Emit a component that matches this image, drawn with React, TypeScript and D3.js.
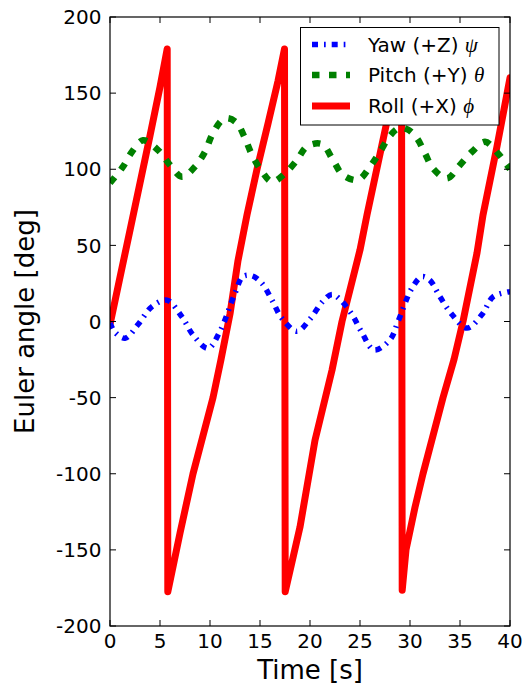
import React from 'react';
import * as d3 from 'd3';

// Time samples [s] and Euler angles [deg]
const rollTime = [0, 1, 2, 3, 4, 5, 5.72, 5.78, 7, 8.3, 10.3, 11.1, 12.0, 12.8, 13.7, 14.7, 15.8, 16.8, 17.45, 17.52, 19.0, 20.5, 22.2, 23.2, 25.0, 25.7, 27.0, 28.3, 29.15, 29.22, 29.6, 30.5, 31.3, 33.3, 34.4, 35.3, 36.7, 37.3, 38.7, 40];
const rollAngle = [-2, 29, 60, 91, 122, 154, 179, -177.5, -139, -100, -50, -25, 5, 40, 70, 100, 130, 158, 179, -177.5, -135, -78, -32, 0, 47, 70, 110, 150, 179, -176.5, -150, -122, -100, -50, -25, 0, 45, 70, 115, 160];

const yawTime = [0, 0.5, 1.5, 2.8, 4.2, 5.7, 7.2, 8.3, 9.8, 11, 12.5, 13.3, 14.2, 15.2, 16.2, 17.2, 18.7, 20, 21.3, 22.2, 23, 24.2, 25.2, 26.4, 28, 28.8, 30.2, 31.2, 32, 33, 34.2, 35.7, 37.2, 38.3, 39.8, 40];
const yawAngle = [-1, -7, -11, -2, 9.8, 14, 3, -8.8, -17.6, -6.4, 18.6, 29.5, 30, 25, 14, 2, -6.4, 1.6, 13.4, 17.8, 14.5, 4.6, -7.4, -18.7, -12, -0.1, 22, 29.5, 27, 16.2, 4.6, -4.3, 4.6, 16.2, 19.4, 19.6];

const pitchTime = [0, 1.3, 2.2, 3.3, 4.8, 6, 7.2, 8.5, 9.5, 10.2, 11.2, 11.8, 12.7, 13.5, 14.2, 15.2, 16.2, 17.5, 18.7, 19.7, 21.2, 22.3, 23.3, 24.8, 26, 27, 28, 28.9, 29.8, 30.7, 31.5, 32.3, 33.7, 35, 36.2, 37.5, 38.8, 39.7, 40];
const pitchAngle = [91, 101.7, 111.5, 119, 112.6, 102.8, 95, 101.7, 111.5, 122.5, 132.3, 133.5, 130.2, 120.3, 109.4, 98.4, 91.8, 97.3, 106, 115, 116.5, 106, 96.2, 93, 101.7, 111.5, 122, 127, 126, 120.3, 110.4, 100.6, 94, 102.8, 111.5, 118, 110.4, 102.8, 100];

const xTicks = [0, 5, 10, 15, 20, 25, 30, 35, 40];
const yTicks = [-200, -150, -100, -50, 0, 50, 100, 150, 200];

const legendLabels = ['Yaw (+Z) ', 'Pitch (+Y) ', 'Roll (+X) '];
const legendSymbols = ['\u03C8', '\u03B8', '\u03D5'];

const W = 524;
const H = 691;
const left = 110, right = 510, top = 17, bottom = 626;
const font = 'DejaVu Sans, sans-serif';

const zip = (t: number[], v: number[]) => t.map((d, i) => [d, v[i]] as [number, number]);

export default function App() {
  const x = d3.scaleLinear().domain([0, 40]).range([left, right]);
  const y = d3.scaleLinear().domain([-200, 200]).range([bottom, top]);

  const linear = d3.line<[number, number]>().x(d => x(d[0])).y(d => y(d[1]));
  const smooth = d3.line<[number, number]>().x(d => x(d[0])).y(d => y(d[1])).curve(d3.curveCatmullRom.alpha(0.5));

  const rollPath = linear(zip(rollTime, rollAngle)) || '';
  const yawPath = smooth(zip(yawTime, yawAngle)) || '';
  const pitchPath = smooth(zip(pitchTime, pitchAngle)) || '';

  const styles = [
    { color: '#0000ff', dash: '6,6,1.7,6', width: 5.5 },
    { color: '#008000', dash: '7.5,9.5', width: 6.5 },
    { color: '#ff0000', dash: '', width: 7 },
  ];

  const lgX = 300.5, lgY = 27.5, lgW = 198.5, lgH = 97.5;
  const rowY = [44.5, 75, 106];

  return (
    <svg width={W} height={H} style={{ position: 'absolute', left: 0, top: 0, background: '#fff' }}>
      <defs>
        <clipPath id="plotClip">
          <rect x={left} y={top} width={right - left} height={bottom - top} />
        </clipPath>
      </defs>
      <rect x={0} y={0} width={W} height={H} fill="#fff" />
      <g clipPath="url(#plotClip)" fill="none">
        <path d={rollPath} stroke={styles[2].color} strokeWidth={styles[2].width} strokeLinejoin="round" strokeLinecap="round" />
        <path d={yawPath} stroke={styles[0].color} strokeWidth={styles[0].width} strokeDasharray={styles[0].dash} />
        <path d={pitchPath} stroke={styles[1].color} strokeWidth={styles[1].width} strokeDasharray={styles[1].dash} />
      </g>
      {/* frame */}
      <rect x={left} y={top} width={right - left} height={bottom - top} fill="none" stroke="#000" strokeWidth={1.2} />
      {/* ticks */}
      {xTicks.map(t => (
        <g key={'x' + t}>
          <line x1={x(t)} x2={x(t)} y1={bottom} y2={bottom - 6} stroke="#000" strokeWidth={1} />
          <line x1={x(t)} x2={x(t)} y1={top} y2={top + 6} stroke="#000" strokeWidth={1} />
          <text x={x(t)} y={648} textAnchor="middle" fontFamily={font} fontSize={20} fill="#000">{t}</text>
        </g>
      ))}
      {yTicks.map(t => (
        <g key={'y' + t}>
          <line x1={left} x2={left + 6} y1={y(t)} y2={y(t)} stroke="#000" strokeWidth={1} />
          <line x1={right} x2={right - 6} y1={y(t)} y2={y(t)} stroke="#000" strokeWidth={1} />
          <text x={101.5} y={y(t)} dy="0.36em" textAnchor="end" fontFamily={font} fontSize={20} fill="#000">{t}</text>
        </g>
      ))}
      {/* axis labels */}
      <text x={(left + right) / 2} y={679} textAnchor="middle" fontFamily={font} fontSize={26} fill="#000">Time [s]</text>
      <text transform={`translate(34,${(top + bottom) / 2}) rotate(-90)`} textAnchor="middle" fontFamily={font} fontSize={26} fill="#000">Euler angle [deg]</text>
      {/* legend */}
      <rect x={lgX} y={lgY} width={lgW} height={lgH} fill="#fff" stroke="#000" strokeWidth={1} />
      {legendLabels.map((lab, i) => (
        <g key={lab}>
          <line x1={312} x2={350} y1={rowY[i]} y2={rowY[i]} stroke={styles[i].color} strokeWidth={styles[i].width} strokeDasharray={styles[i].dash || undefined} />
          <text x={368} y={rowY[i]} dy="0.36em" fontFamily={font} fontSize={20} fill="#000">
            {lab}
            <tspan fontFamily="Liberation Serif, DejaVu Serif, serif" fontStyle="italic" fontSize={21}>{legendSymbols[i]}</tspan>
          </text>
        </g>
      ))}
    </svg>
  );
}
